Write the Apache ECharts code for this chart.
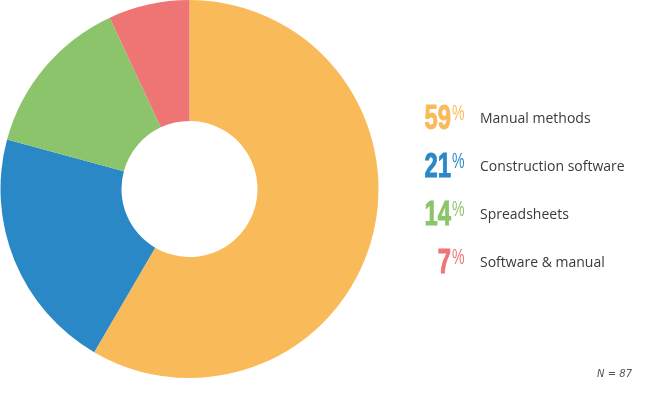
<!DOCTYPE html>
<html><head><meta charset="utf-8">
<script src="https://cdn.jsdelivr.net/npm/echarts@6/dist/echarts.min.js"></script>
<style>html,body{margin:0;padding:0;background:#fff}#c{width:645px;height:393px}</style>
</head><body><div id="c"></div>
<script>
const categories = ['Manual methods', 'Construction software', 'Spreadsheets', 'Software & manual'];
const values = [59, 21, 14, 7];
const colors = ['#F9BB5A', '#2A88C6', '#8CC46C', '#EF7474'];
const note = 'N = 87';

// legend layout
const legendTop = 99, rowLine = 30, rowGap = 18, numRight = 451;

const chart = echarts.init(document.getElementById('c'));
const numbers = [];
values.forEach((v, i) => {
  const yc = legendTop + rowLine / 2 + i * (rowLine + rowGap) + 5;
  numbers.push({
    type: 'text', x: numRight, y: yc, scaleX: 0.68, silent: true,
    style: { text: String(v), fontFamily: 'Liberation Sans', fontWeight: 'bold', fontSize: 35, fill: colors[i], stroke: colors[i], lineWidth: 1, align: 'right', verticalAlign: 'middle' }
  });
  numbers.push({
    type: 'text', x: numRight + 1, y: yc - 5, scaleX: 0.64, silent: true,
    style: { text: '%', fontFamily: 'Liberation Sans', fontSize: 22, fill: colors[i], align: 'left', verticalAlign: 'middle' }
  });
});

chart.setOption({
  animation: false,
  color: colors,
  legend: {
    orient: 'vertical',
    left: 470,
    top: legendTop,
    itemWidth: 0,
    itemHeight: 0,
    itemGap: rowGap,
    selectedMode: false,
    data: categories,
    textStyle: { fontFamily: 'Open Sans', fontSize: 14, color: '#3a3a3a', lineHeight: rowLine }
  },
  graphic: numbers,
  title: {
    text: note,
    right: 8,
    top: 364,
    textStyle: { fontFamily: 'DejaVu Sans', fontStyle: 'italic', fontWeight: 'normal', fontSize: 10, color: '#555' }
  },
  series: [{
    type: 'pie',
    center: [189.5, 189],
    radius: [68, 189],
    startAngle: 90,
    clockwise: true,
    label: { show: false },
    labelLine: { show: false },
    silent: true,
    itemStyle: { borderWidth: 0 },
    data: categories.map((n, i) => ({ name: n, value: values[i] }))
  }]
});
</script></body></html>
